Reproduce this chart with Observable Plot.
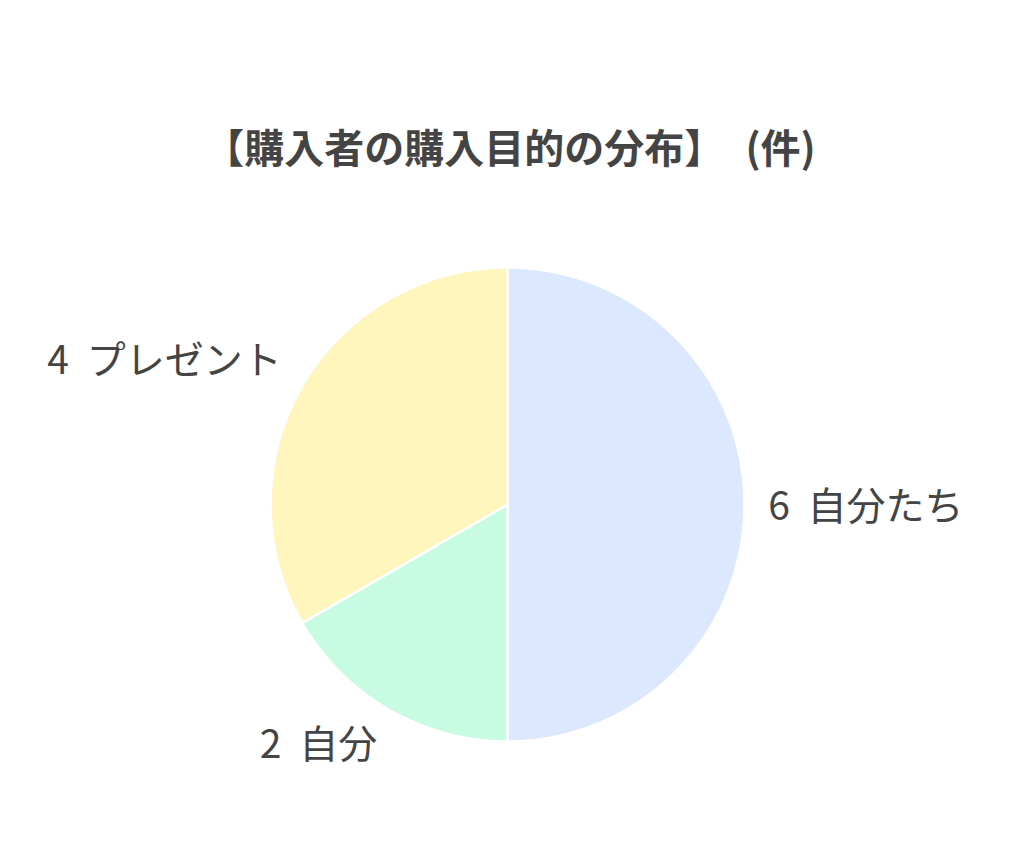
<!DOCTYPE html>
<html>
<head>
<meta charset="utf-8">
<script src="https://cdn.jsdelivr.net/npm/d3@7"></script>
<script src="https://cdn.jsdelivr.net/npm/@observablehq/plot@0.6"></script>
<style>
  html, body { margin: 0; padding: 0; background: #fff; }
  body { width: 1024px; height: 868px; overflow: hidden; font-family: "Noto Sans CJK JP", sans-serif; }
  #title { height: 56px; padding-top: 118px; padding-right: 4px; line-height: 56px; text-align: center; font-size: 40px; font-weight: bold; color: #444; word-spacing: 12px; }
  #chart svg { display: block; }
  #chart text { word-spacing: 9px; }
</style>
</head>
<body>
<div id="title"></div>
<div id="chart"></div>
<script>
// Data
const categories = ["自分たち", "自分", "プレゼント"];
const counts = [6, 2, 4];
const colors = ["#dce8fd", "#c8fce2", "#fef6bd"];
const chartTitle = "【購入者の購入目的の分布】 (件)";

document.getElementById("title").textContent = chartTitle;

// Layout
const W = 1024, H = 694;
const cx = 507, cy = 330, R = 237;

// Build slice polygons (angles clockwise from top)
const total = d3.sum(counts);
let acc = 0;
const slices = categories.map((name, i) => {
  const a0 = acc / total * 2 * Math.PI;
  acc += counts[i];
  const a1 = acc / total * 2 * Math.PI;
  return {name, value: counts[i], a0, a1, mid: (a0 + a1) / 2};
});
const polyPts = [];
for (const s of slices) {
  polyPts.push({name: s.name, x: 0, y: 0});
  const n = Math.max(2, Math.ceil((s.a1 - s.a0) / (Math.PI / 360)));
  for (let k = 0; k <= n; k++) {
    const a = s.a0 + (s.a1 - s.a0) * k / n;
    polyPts.push({name: s.name, x: Math.sin(a), y: Math.cos(a)});
  }
  polyPts.push({name: s.name, x: 0, y: 0});
}

const LR = 1.1;
const labels = slices.map(s => {
  const sx = Math.sin(s.mid), cy_ = Math.cos(s.mid);
  return {
    text: `${s.value} ${s.name}`,
    x: LR * sx, y: LR * cy_,
    ta: sx > 0.2 ? "start" : sx < -0.2 ? "end" : "middle",
    la: cy_ > 0.3 ? "bottom" : cy_ < -0.3 ? "top" : "middle"
  };
});
const groups = d3.groups(labels, d => d.ta + "|" + d.la);
const textMarks = groups.map(([key, arr]) => {
  const [ta, la] = key.split("|");
  return Plot.text(arr, {
    x: "x", y: "y", text: "text",
    textAnchor: ta, lineAnchor: la,
    fontSize: 39, fill: "#444",
    fontFamily: "Noto Sans CJK JP",
    dy: la === "middle" ? 3 : 0
  });
});

const chart = Plot.plot({
  width: W, height: H,
  margin: 0,
  x: {domain: [-cx / R, (W - cx) / R], range: [0, W], axis: null},
  y: {domain: [cy / R, -(H - cy) / R], range: [0, H], axis: null},
  color: {domain: categories, range: colors},
  style: {background: "transparent"},
  marks: [
    Plot.line(polyPts, {
      x: "x", y: "y", z: "name", fill: "name",
      stroke: "#ffffff", strokeWidth: 2.5, curve: "linear", strokeLinejoin: "round"
    }),
    ...textMarks
  ]
});
document.getElementById("chart").appendChild(chart);
</script>
</body>
</html>
